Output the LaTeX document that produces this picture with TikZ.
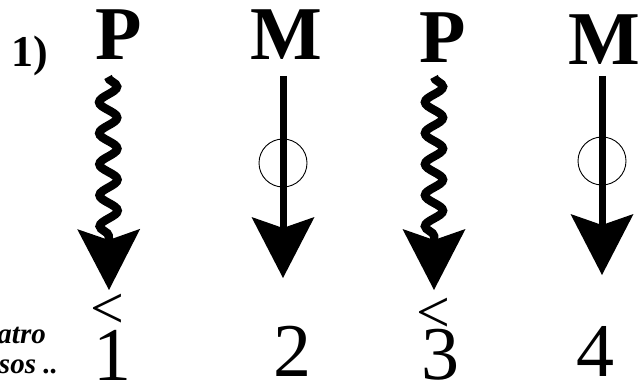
\documentclass[tikz,border=0pt]{standalone}
\usepackage{fontspec}
\setmainfont{Liberation Serif}
\usetikzlibrary{arrows.meta,decorations.pathmorphing}
\tikzset{
  bigletter/.style={font=\fontsize{76}{76}\selectfont\bfseries, inner sep=0pt, anchor=base},
  bignum/.style={font=\fontsize{76}{76}\selectfont, inner sep=0pt, anchor=base},
  lessthan/.style={font=\fontsize{60}{60}\selectfont, inner sep=0pt, anchor=center},
  fatarrow/.style={line width=7pt, -{Stealth[length=61pt, width=63pt, inset=11pt, line width=0pt]}},
  wavy/.style={fatarrow, line width=8.5pt, decorate, decoration={snake, segment length=31pt, amplitude=9pt, post length=46pt}},
  ring/.style={circle, draw, line width=0.9pt, minimum size=48pt, inner sep=0pt},
  sidetext/.style={font=\fontsize{29}{29}\selectfont\bfseries\itshape, inner sep=0pt, anchor=base east}
}
\begin{document}
\begin{tikzpicture}[x=1pt,y=-1pt]
  \useasboundingbox (0,0) rectangle (643,385);
  \clip (0,0) rectangle (643,385);
  % labels
  \node[font=\fontsize{44}{44}\selectfont\bfseries, inner sep=0pt, anchor=base] (case) at (30,67) {1)};
  \node[bigletter] (P1) at (119,60) {P};
  \node[bigletter] (M1) at (286,60) {M};
  \node[bigletter] (P2) at (443,63) {P};
  \node[bigletter] (M2) at (604,65) {M};
  % start and end coordinates
  \coordinate (s1) at (108,77);
  \coordinate (e1) at (109,290);
  \coordinate (s2) at (283,76);
  \coordinate (e2) at (283,278);
  \coordinate (s3) at (434,77);
  \coordinate (e3) at (434,290);
  \coordinate (s4) at (602,76);
  \coordinate (e4) at (602,275);
  % arrows
  \draw[wavy] (s1) -- (e1);
  \draw[fatarrow] (s2) -- (e2);
  \draw[wavy] (s3) -- (e3);
  \draw[fatarrow] (s4) -- (e4);
  % rings
  \node[ring] (r2) at (283,163) {};
  \node[ring] (r4) at (602,161) {};
  % bottom numbers
  \node[lessthan] (lt1) at (107,311) {<};
  \node[bignum] (n1) at (112,380) {1};
  \node[bignum] (n2) at (292,376) {2};
  \node[lessthan] (lt3) at (433,315) {<};
  \node[bignum] (n3) at (440,379) {3};
  \node[bignum] (n4) at (595,376) {4};
  % side text
  \node[sidetext] (t1) at (46,343) {atro};
  \node[sidetext] (t2) at (58,373) {sos ..};
\end{tikzpicture}
\end{document}
